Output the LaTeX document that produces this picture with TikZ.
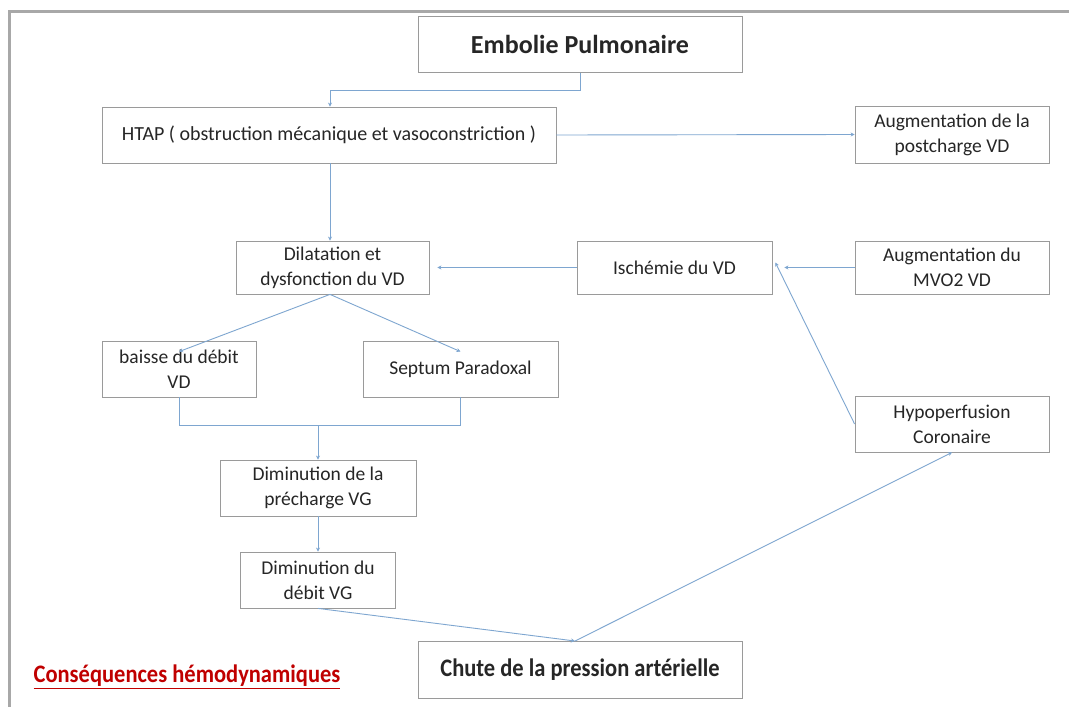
\documentclass[tikz,border=0pt]{standalone}
\usepackage{fontspec}
\usepackage{graphicx}
\setmainfont{Carlito}
\usetikzlibrary{arrows.meta}
\definecolor{lnk}{HTML}{7EA6D0}
\definecolor{bx}{HTML}{9A9A9A}
\definecolor{frm}{HTML}{A8A8A8}
\definecolor{redt}{HTML}{C00000}
\begin{document}
\begin{tikzpicture}[x=1pt,y=-1pt,
  box/.style={draw=bx,line width=0.8pt,fill=white,inner sep=0pt,align=center,text=black!85,font=\fontsize{19.5}{25}\selectfont},
  lnk/.style={draw=lnk,line width=0.9pt,-{Stealth[length=4pt,width=4pt]}},
  lnkp/.style={draw=lnk,line width=0.9pt}]
\useasboundingbox (0,0) rectangle (1069,707);
\fill[white] (0,0) rectangle (1069,707);
\draw[frm,line width=3pt] (9,707) -- (9,11) -- (1069,11);
% nodes
\node[box,minimum width=324,minimum height=56,font=\bfseries\fontsize{26}{30}\selectfont] (ep) at (580,44.5) {Embolie Pulmonaire};
\node[box,minimum width=454,minimum height=56,font=\fontsize{20}{24}\selectfont] (htap) at (329,135) {HTAP ( obstruction mécanique et vasoconstriction )};
\node[box,minimum width=194,minimum height=57] (post) at (952,134.5) {Augmentation de la\\postcharge VD};
\node[box,minimum width=193,minimum height=53] (dil) at (332.5,267.5) {Dilatation et\\dysfonction du VD};
\node[box,minimum width=195,minimum height=53] (isc) at (674.5,267.5) {Ischémie du VD};
\node[box,minimum width=194,minimum height=53] (mvo) at (952,267.5) {Augmentation du\\MVO2 VD};
\node[box,minimum width=154,minimum height=56] (bai) at (179,369) {baisse du débit\\VD};
\node[box,minimum width=195,minimum height=56] (sep) at (460.5,369) {Septum Paradoxal};
\node[box,minimum width=194,minimum height=56] (hyp) at (952,424) {Hypoperfusion\\Coronaire};
\node[box,minimum width=196,minimum height=56] (pre) at (318,488) {Diminution de la\\précharge VG};
\node[box,minimum width=155,minimum height=56] (deb) at (318,580) {Diminution du\\débit VG};
\node[box,minimum width=324,minimum height=57,font=\bfseries\fontsize{22.5}{27}\selectfont] (chu) at (580,669.5) {\scalebox{1}[1.12]{Chute de la pression artérielle}};
\node[font=\bfseries\fontsize{22.5}{27}\selectfont,text=redt,inner sep=0pt] (cons) at (187,677) {\scalebox{1}[1.12]{\underline{Conséquences hémodynamiques}}};
% connectors
\coordinate (j1) at (580,90);
\coordinate (j2) at (330,90);
\draw[lnk] (ep.south -| j1) -- (j1) -- (j2) -- (htap.north -| j2);
\draw[lnk] (htap.east) -- (post.west);
\draw[lnk] (htap.south -| j2) -- (dil.north -| j2);
\draw[lnk] (isc.west) -- ([xshift=8pt]dil.east);
\draw[lnk] (mvo.west) -- ([xshift=12pt]isc.east);
\draw[lnk] (hyp.west) -- ([xshift=3pt,yshift=5pt]isc.east);
\coordinate (dsb) at (330,294);
\draw[lnk] (dil.south -| dsb) -- ([yshift=-11pt]bai.north);
\draw[lnk] (dil.south -| dsb) -- ([yshift=-11pt]sep.north);
\coordinate (m1) at (179,425);
\coordinate (m2) at (460,425);
\coordinate (m3) at (318,425);
\draw[lnkp] (bai.south -| m1) -- (m1) -- (m2) -- (sep.south -| m2);
\draw[lnk] (m3) -- (pre.north -| m3);
\draw[lnk] (pre.south -| m3) -- (deb.north -| m3);
\coordinate (ct) at (575,641);
\draw[lnk] (deb.south) -- (ct);
\draw[lnk] (ct) -- (hyp.south);
\end{tikzpicture}
\end{document}
